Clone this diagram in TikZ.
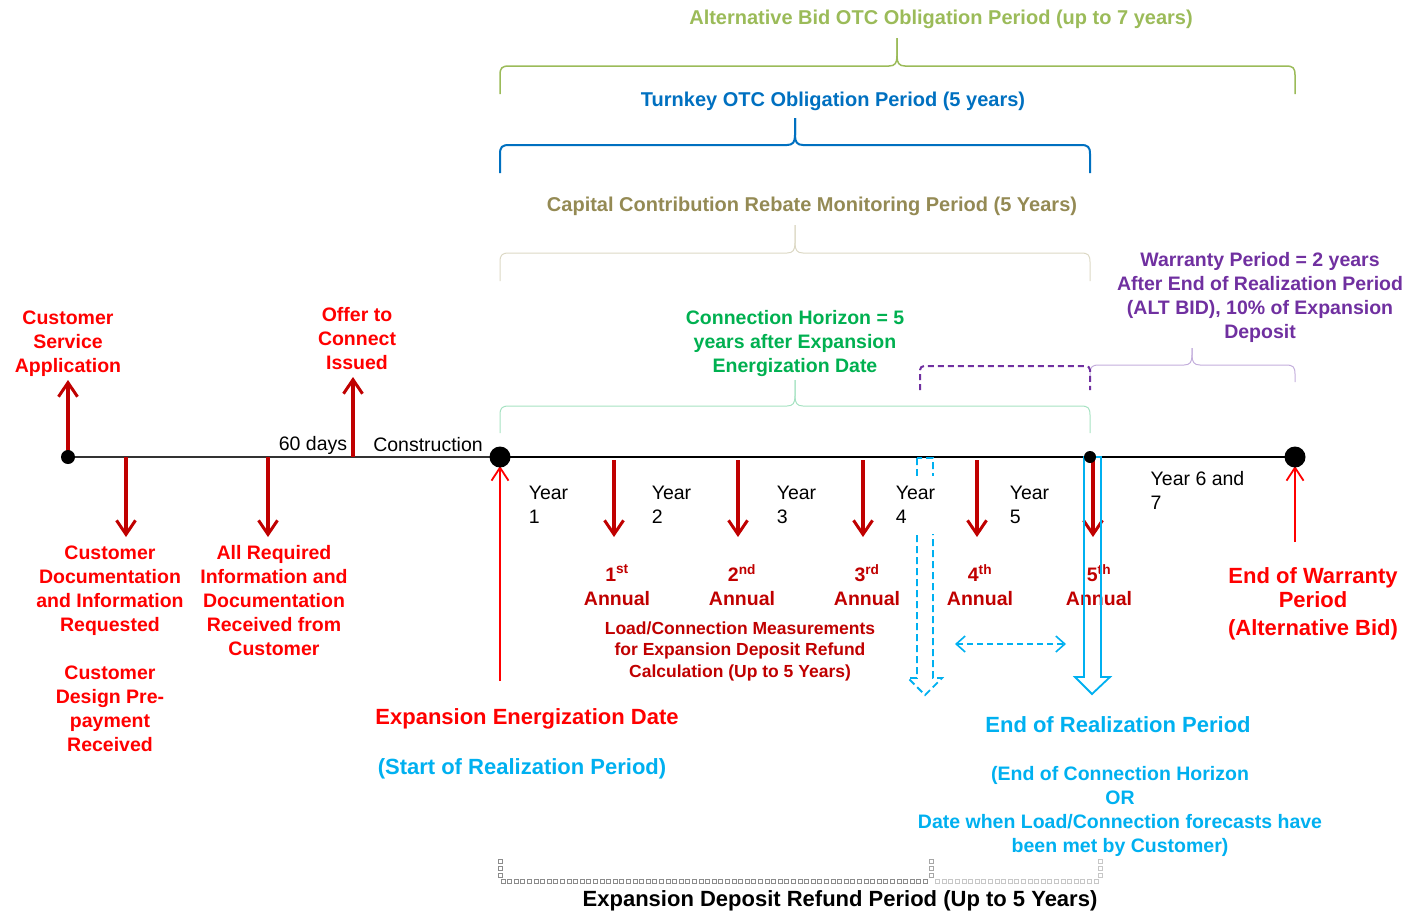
\documentclass[tikz,border=0pt]{standalone}
\usepackage{fontspec}
\setmainfont{Liberation Sans}
\usetikzlibrary{arrows.meta}

\definecolor{brightred}{HTML}{FF0000}
\definecolor{darkred}{HTML}{C00000}
\definecolor{skyblue}{HTML}{00B0F0}
\definecolor{oblue}{HTML}{0070C0}
\definecolor{altgreen}{HTML}{9BBB59}
\definecolor{captan}{HTML}{948A54}
\definecolor{hgreen}{HTML}{00B050}
\definecolor{wpurple}{HTML}{7030A0}
\definecolor{lighttan}{HTML}{DCD8C4}
\definecolor{lightgreen}{HTML}{A6E2C2}
\definecolor{lightpurple}{HTML}{C3AEDC}

\newcommand\fs[2]{\fontsize{#1}{#2}\selectfont}

% curly bracket over a period: style, left x, tip x, right x, bar y, end y, tip y
\newcommand\spanbrace[7]{%
  \draw[#1] (#2,#6) -- (#2,#5+9) .. controls (#2,#5+2) and (#2+2,#5) .. (#2+9,#5)
    -- (#3-8,#5) .. controls (#3-2,#5) and (#3,#5-3) .. (#3,#5-10) -- (#3,#7);
  \draw[#1] (#3,#7) -- (#3,#5-10) .. controls (#3,#5-3) and (#3+2,#5) .. (#3+8,#5)
    -- (#4-9,#5) .. controls (#4-2,#5) and (#4,#5+2) .. (#4,#5+9) -- (#4,#6);}

\begin{document}
\begin{tikzpicture}[x=1pt,y=-1pt,
  every node/.style={inner sep=0pt},
  evt/.style={font=\bfseries\fs{19.5}{24}, align=center, text=brightred},
  mid/.style={font=\bfseries\fs{19.5}{24}, align=center},
  big/.style={font=\bfseries\fs{22}{24}, align=center},
  ttl/.style={font=\bfseries\fs{20}{24}, align=center},
  ann/.style={font=\bfseries\fs{19.5}{24}, align=center, text=darkred},
  plain/.style={font=\fs{19.5}{24}},
  yr/.style={font=\fs{19.5}{24}, align=left, fill=white, inner xsep=5pt, inner ysep=10pt},
  dot/.style={circle, fill=black, inner sep=0pt},
  darrow/.style={draw=darkred, line width=3.5pt, -{Straight Barb[length=14pt, width=19pt, line width=3pt]}},
  rarrow/.style={draw=brightred, line width=2pt, -{Straight Barb[length=13pt, width=17pt, line width=1.8pt]}},
  barrow/.style={draw=skyblue, line width=1.8pt, dash pattern=on 6pt off 4pt,
    {Straight Barb[length=9pt, width=16pt, line width=1.6pt]}-{Straight Barb[length=9pt, width=16pt, line width=1.6pt]}},
  sq/.style={draw, line width=0.7pt},
]
\useasboundingbox (0,0) rectangle (1410,911);

% ---------- period brackets ----------
\spanbrace{altgreen, line width=1.5pt}{500}{897}{1295}{66}{94}{38}
\spanbrace{oblue, line width=2pt}{500}{795}{1090}{145}{173}{118}
\spanbrace{lighttan, line width=1pt}{500}{795}{1090}{253}{281}{225}
\spanbrace{lightgreen, line width=1pt}{500}{795}{1090}{406}{433}{380}
\spanbrace{lightpurple, line width=1pt}{1090}{1192}{1295}{365}{382}{348}
\draw[wpurple, line width=2pt, dash pattern=on 6pt off 4pt, rounded corners=4pt]
  (920,390) -- (920,366) -- (1090,366) -- (1090,390);

\node[ttl, text=altgreen] (altttl) at (941,19) {Alternative Bid OTC Obligation Period (up to 7 years)};
\node[ttl, text=oblue] (turnttl) at (833,101) {Turnkey OTC Obligation Period (5 years)};
\node[ttl, text=captan] (capttl) at (812,206) {Capital Contribution Rebate Monitoring Period (5 Years)};
\node[mid, text=hgreen] (chz) at (795,343) {Connection Horizon = 5\\years after Expansion\\Energization Date};
\node[mid, text=wpurple] (wp) at (1260,297) {Warranty Period = 2 years\\After End of Realization Period\\(ALT BID), 10\% of Expansion\\Deposit};

% ---------- refund period bracket (square dots) ----------
\foreach \x in {503,509.6,...,931} \draw[sq, black!45] (\x-2,879) rectangle (\x+2,883);
\foreach \x in {937.6,944.2,...,1100} \draw[sq, black!22] (\x-2,879) rectangle (\x+2,883);
\foreach \y in {861,868,875} {
  \draw[sq, black!45] (498,\y-2) rectangle (502,\y+2);
  \draw[sq, black!35] (929,\y-2) rectangle (933,\y+2);
  \draw[sq, black!22] (1098,\y-2) rectangle (1102,\y+2);
}
\node[big] (refund) at (840,901) {Expansion Deposit Refund Period (Up to 5 Years)};

% ---------- timeline ----------
\coordinate (t0) at (68,457);
\coordinate (e0) at (500,457);
\coordinate (r5) at (1090,457);
\coordinate (w7) at (1295,457);
\draw[line width=1.8pt, black!80] (t0) -- (e0);
\draw[line width=2.5pt] (e0) -- (w7);

% dashed realization marker (drawn under the Year 4 label)
\draw[skyblue, line width=1.8pt, dash pattern=on 7pt off 4pt]
  (917,458) -- (917,678) -- (908,678) -- (925,695) -- (942,678) -- (933,678) -- (933,458) -- cycle;

\node[plain] (d60) at (313,445) {60 days};
\node[plain] (con) at (428,445) {Construction};
\node[yr] (y1) at (548.5,505) {Year\\1};
\node[yr] (y2) at (671.5,505) {Year\\2};
\node[yr] (y3) at (796.5,505) {Year\\3};
\node[yr] (y4) at (915.5,505) {Year\\4};
\node[yr] (y5) at (1029.5,505) {Year\\5};
\node[yr] (y6) at (1197.5,490) {Year 6 and\\7};

% ---------- events before energization ----------
\coordinate (u1) at (68,380);
\coordinate (u2s) at (353,457);
\coordinate (u2) at (353,377);
\coordinate (dn1s) at (126,457);
\coordinate (dn1) at (126,537);
\coordinate (dn2s) at (268,457);
\coordinate (dn2) at (268,537);
\draw[darrow] (t0) -- (u1);
\draw[darrow] (u2s) -- (u2);
\draw[darrow] (dn1s) -- (dn1);
\draw[darrow] (dn2s) -- (dn2);

\node[evt] (csa) at (68,344) {Customer\\Service\\Application};
\node[evt] (otc) at (357,339) {Offer to\\Connect\\Issued};
\node[evt] (cdr) at (110,649) {Customer\\Documentation\\and Information\\Requested\\[24pt]Customer\\Design Pre-\\payment\\Received};
\node[evt] (air) at (274,601) {All Required\\Information and\\Documentation\\Received from\\Customer};

% ---------- annual measurements ----------
\foreach \i/\x in {1/614,2/738,3/863,4/977,5/1093} {
  \coordinate (m\i s) at (\x,460);
  \coordinate (m\i) at (\x,537);
  \draw[darrow] (m\i s) -- (m\i);
}
\node[ann] (n1) at (617,585) {1\textsuperscript{st}\\Annual};
\node[ann] (n2) at (742,585) {2\textsuperscript{nd}\\Annual};
\node[ann] (n3) at (867,585) {3\textsuperscript{rd}\\Annual};
\node[ann] (n4) at (980,585) {4\textsuperscript{th}\\Annual};
\node[ann] (n5) at (1099,585) {5\textsuperscript{th}\\Annual};
\node[font=\bfseries\fs{17.5}{21.5}, align=center, text=darkred] (lc) at (740,651)
  {Load/Connection Measurements\\for Expansion Deposit Refund\\Calculation (Up to 5 Years)};

% ---------- end of realization ----------
\draw[skyblue, line width=1.8pt]
  (1084,457) -- (1084,677) -- (1075,677) -- (1092,694) -- (1110,677) -- (1101,677) -- (1101,457) -- cycle;
\coordinate (h1) at (955,644);
\coordinate (h2) at (1066,644);
\draw[barrow] (h1) -- (h2);

% ---------- energization and warranty ----------
\coordinate (ee) at (500,681);
\coordinate (eet) at (500,466);
\coordinate (we) at (1295,542);
\coordinate (wet) at (1295,466);
\draw[rarrow] (ee) -- (eet);
\draw[rarrow] (we) -- (wet);

\node[dot, minimum size=14pt] (c0) at (t0) {};
\node[dot, minimum size=21pt] (c1) at (e0) {};
\node[dot, minimum size=12pt] (c2) at (r5) {};
\node[dot, minimum size=21pt] (c3) at (w7) {};

\node[big, text=brightred] (eed) at (527,719) {Expansion Energization Date};
\node[big, text=skyblue] (srp) at (522,769) {(Start of Realization Period)};
\node[big, text=skyblue] (erp) at (1118,725) {End of Realization Period};
\node[mid, text=skyblue] (ech) at (1120,811) {(End of Connection Horizon\\OR\\Date when Load/Connection forecasts have\\been met by Customer)};
\node[big, text=brightred] (ewp) at (1313,588) {End of Warranty\\Period};
\node[big, text=brightred] (alb) at (1313,630) {(Alternative Bid)};
\end{tikzpicture}
\end{document}
